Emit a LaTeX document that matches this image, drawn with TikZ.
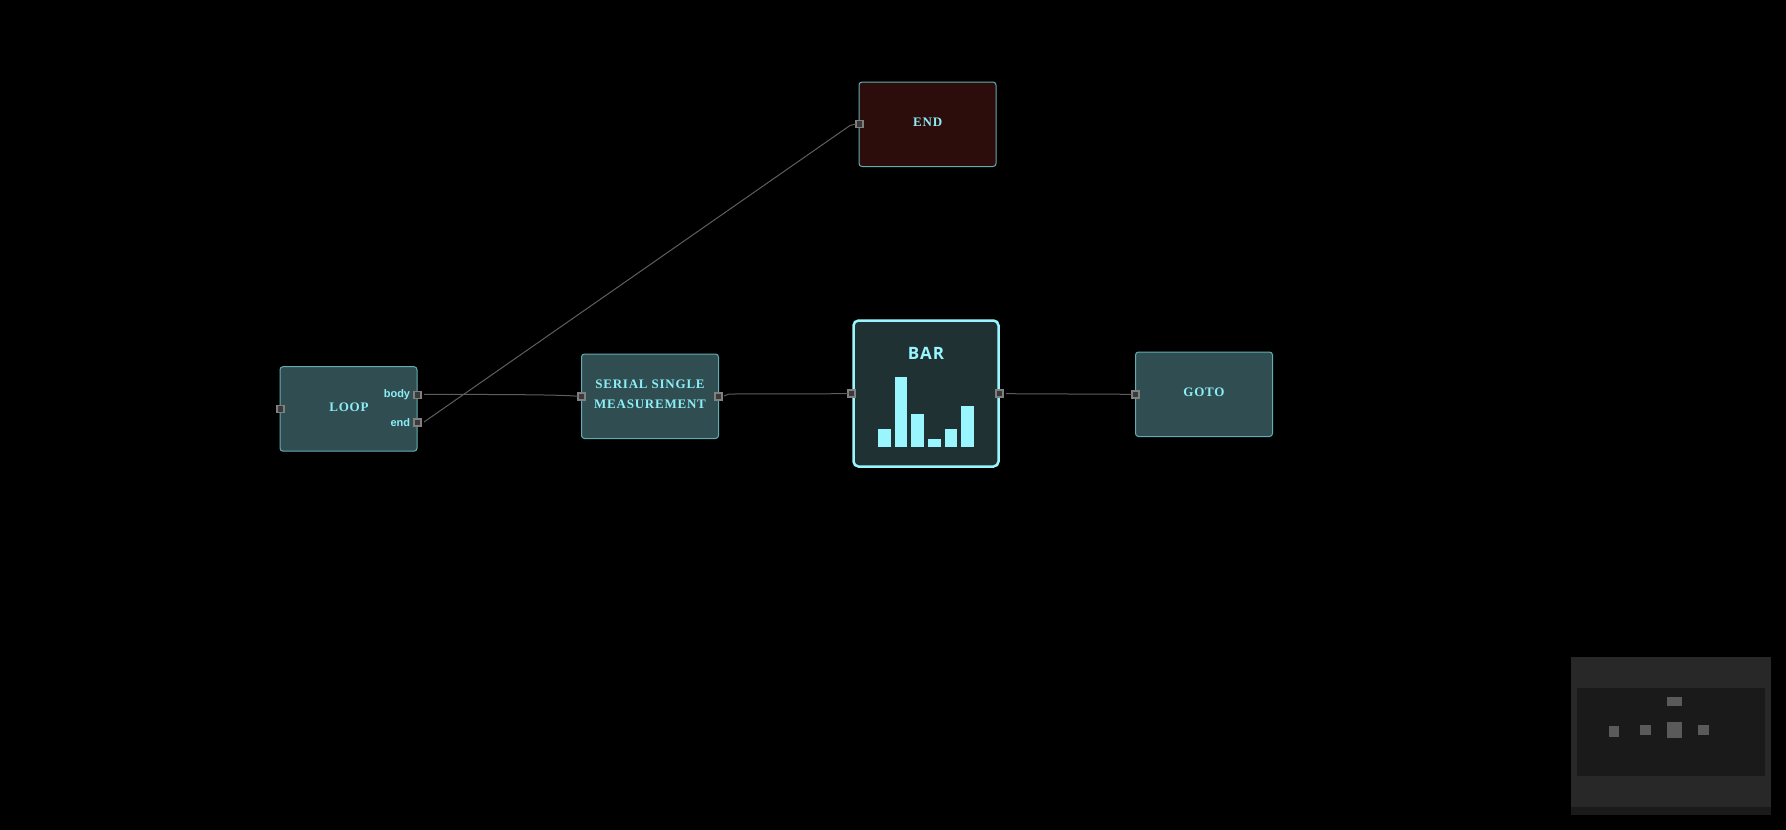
\documentclass[tikz,border=0pt]{standalone}
\usepackage{fontspec}
\setmainfont{Liberation Serif}
\newfontfamily\labfont{Liberation Sans}
\newfontfamily\barfont{Open Sans}
\definecolor{nodefill}{HTML}{304E51}
\definecolor{nodeedge}{HTML}{62ADB3}
\definecolor{endfill}{HTML}{2C0D0C}
\definecolor{txt}{HTML}{8CEEF7}
\definecolor{barcol}{HTML}{99F6FF}
\definecolor{barfill}{HTML}{203134}
\definecolor{wire}{HTML}{5E5E5E}
\definecolor{portfill}{HTML}{3A3A3A}
\definecolor{portedge}{HTML}{808080}
\definecolor{mapout}{HTML}{282828}
\definecolor{mapin}{HTML}{1A1A1A}
\definecolor{mapbox}{HTML}{5A5A5A}
\tikzset{
  x=1pt,y=-1pt,
  base/.style={rectangle,rounded corners=3pt,draw=nodeedge,line width=1pt,fill=nodefill,anchor=north west,inner sep=0pt,outer sep=0pt,text=txt,align=center},
  flow/.style={base,minimum width=137pt,minimum height=84.5pt},
  ntext/.style={text=txt,inner sep=0pt,align=center,font=\fontsize{13}{20}\selectfont\bfseries\addfontfeature{LetterSpace=6}},
  plabel/.style={text=txt,inner sep=0pt,anchor=east,font=\fontsize{11}{13}\selectfont\labfont\bfseries},
  port/.style={rectangle,draw=portedge,fill=portfill,line width=1.8pt,minimum size=7pt,inner sep=0pt,outer sep=0pt},
  wireline/.style={draw=wire,line width=1pt},
  barbar/.style={fill=barcol,draw=none},
  mapnode/.style={fill=mapbox,draw=none}
}
\begin{document}
\begin{tikzpicture}
\useasboundingbox[fill=black] (0,0) rectangle (1786,830);
% nodes
\node[flow] (loop) at (280,366.7) {};
\node[flow] (serial) at (581.5,354) {};
\node[flow,fill=endfill] (endn) at (859,82) {};
\node[flow] (gotonode) at (1135.5,352) {};
\node[base,fill=barfill,draw=barcol,line width=2.5pt,minimum width=145pt,minimum height=146pt,rounded corners=5pt] (bar) at (853.5,320.5) {};
% labels
\node[ntext] (tloop) at (349,407) {LOOP};
\node[ntext] (tserial) at (650,394.5) {SERIAL SINGLE\\MEASUREMENT};
\node[ntext] (tend) at (927.7,122) {END};
\node[ntext] (tgoto) at (1204,392) {GOTO};
\node[text=barcol,inner sep=0pt,font=\fontsize{17}{20}\selectfont\barfont\bfseries\addfontfeature{LetterSpace=6}] (tbar) at (926,353) {BAR};
\node[plabel] (lbody) at (410.3,394.2) {body};
\node[plabel] (lend) at (410.3,422.2) {end};
% bars
\fill[barbar] (878,428.7) rectangle (890.7,446.7);
\fill[barbar] (894.7,377.3) rectangle (907,446.7);
\fill[barbar] (911.3,414) rectangle (923.7,446.7);
\fill[barbar] (928,439.3) rectangle (940.7,446.7);
\fill[barbar] (944.7,428.7) rectangle (957.3,446.7);
\fill[barbar] (961.3,406.3) rectangle (973.7,446.7);
% connectors
\coordinate (b1) at (424,394.3);
\coordinate (e1) at (424,422);
\coordinate (s1) at (724,396);
\coordinate (o1) at (1006,393.7);
\node[port] (ploopin) at (280.5,409) {};
\node[port] (pbody) at (417.3,395) {};
\node[port] (pend) at (417.3,422.7) {};
\node[port] (pserin) at (581.7,396.3) {};
\node[port] (pserout) at (718.3,396.3) {};
\node[port] (pbarin) at (851.7,393.7) {};
\node[port] (pbarout) at (999.7,393.7) {};
\node[port] (pgoto) at (1135.3,394.3) {};
\node[port] (pendn) at (859.3,124) {};
\draw[wireline] (b1) .. controls (470,394.5) and (560,394.3) .. (pserin.west);
\draw[wireline] (e1) -- (850,125.5) -- (pendn.west);
\draw[wireline] (s1) .. controls (727,394) and (729,394) .. (733,394) -- (pbarin.west);
\draw[wireline] (o1) -- (pgoto.west);
% minimap
\fill[mapout] (1571,657) rectangle (1771,815);
\fill[mapin] (1571,807) rectangle (1771,815);
\fill[mapin] (1577.3,688.3) rectangle (1765,775.7);
\fill[mapnode] (1667,697) rectangle (1682,706);
\fill[mapnode] (1667,722) rectangle (1682,738);
\fill[mapnode] (1609,726) rectangle (1619,737);
\fill[mapnode] (1640,725) rectangle (1651,735);
\fill[mapnode] (1698,725) rectangle (1709,735);
\end{tikzpicture}
\end{document}
